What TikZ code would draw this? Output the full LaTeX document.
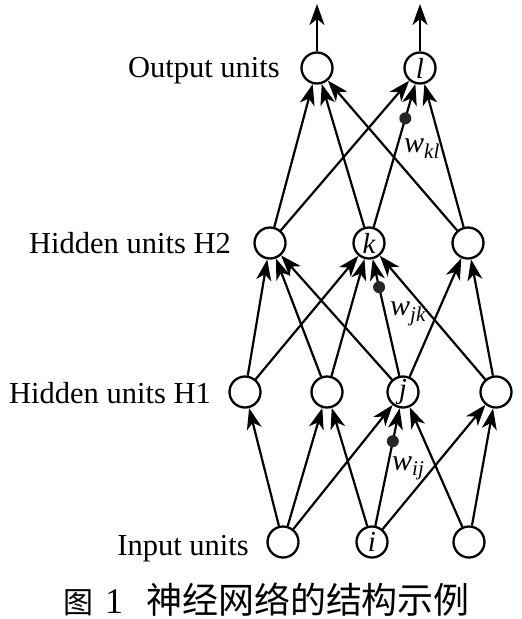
\documentclass[tikz,border=0pt]{standalone}
\usepackage{fontspec}
\setmainfont{Liberation Serif}
\newfontfamily\cjk{Noto Sans CJK SC}
\usetikzlibrary{arrows.meta}
\begin{document}
\begin{tikzpicture}[x=1pt,y=-1pt,
  unit/.style={circle,draw,line width=2.3pt,minimum size=31pt,inner sep=0pt,font=\fontsize{29}{30}\selectfont\itshape},
  conn/.style={line width=2.2pt,-{Stealth[length=21pt,width=15pt,inset=6pt]}},
  wdot/.style={circle,fill=black!85,draw=none,inner sep=0pt,minimum size=12pt},
  lab/.style={anchor=base east,inner sep=0pt,font=\fontsize{30.5}{34}\selectfont},
  wlab/.style={anchor=base west,inner sep=0pt,font=\fontsize{30}{30}\selectfont\itshape},
  captext/.style={inner sep=1pt,font=\fontsize{36}{38}\selectfont}]
\useasboundingbox (0,0) rectangle (522,619);
% output layer
\node[unit] (o1) at (317,68) {};
\node[unit] (o2) at (420,68) {l};
% hidden H2
\node[unit] (a) at (270,243) {};
\node[unit] (k) at (369,243) {k};
\node[unit] (c) at (468,243) {};
% hidden H1
\node[unit] (h1) at (245,392) {};
\node[unit] (h2) at (327,392) {};
\node[unit] (j) at (403,392) {j};
\node[unit] (h4) at (496,392) {};
% input
\node[unit] (i1) at (283,542) {};
\node[unit] (i) at (372,542) {i};
\node[unit] (i3) at (469,542) {};
% outputs
\coordinate (t1) at (317,4);
\coordinate (t2) at (420,4);
% labels
\node[lab] (lo) at (280,77) {Output units};
\node[lab] (lh2) at (231,253) {Hidden units H2};
\node[lab] (lh1) at (211,403) {Hidden units H1};
\node[lab] (li) at (249,555) {Input units};
% input -> H1
\draw[conn] (i1) -- (h1);
\draw[conn] (i1) -- (h2);
\draw[conn] (i1) -- (j);
\draw[conn] (i) -- (h2);
\draw[conn] (i) -- node[wdot,pos=0.72] (dij) {} (j);
\draw[conn] (i) -- (h4);
\draw[conn] (i3) -- (j);
\draw[conn] (i3) -- (h4);
% H1 -> H2
\draw[conn] (h1) -- (a);
\draw[conn] (h1) -- (k);
\draw[conn] (h2) -- (a);
\draw[conn] (h2) -- (k);
\draw[conn] (j) -- (a);
\draw[conn] (j) -- node[wdot,pos=0.76] (djk) {} (k);
\draw[conn] (j) -- (c);
\draw[conn] (h4) -- (k);
\draw[conn] (h4) -- (c);
% H2 -> output
\draw[conn] (a) -- (o1);
\draw[conn] (a) -- (o2);
\draw[conn] (k) -- (o1);
\draw[conn] (k) -- node[wdot,pos=0.76] (dkl) {} (o2);
\draw[conn] (c) -- (o1);
\draw[conn] (c) -- (o2);
\draw[conn] (o1) -- (t1);
\draw[conn] (o2) -- (t2);
% weight labels
\node[wlab] (wkl) at (404,152) {w\textsubscript{kl}};
\node[wlab] (wjk) at (390,315) {w\textsubscript{jk}};
\node[wlab] (wij) at (392,470) {w\textsubscript{ij}};
% caption
\node[captext,anchor=base west] (c1) at (62,613) {{\cjk\fontsize{30}{32}\selectfont 图}\hspace{12pt}1};
\node[captext] (c3) at (308,600) {\cjk 神经网络的结构示例};
\end{tikzpicture}
\end{document}
